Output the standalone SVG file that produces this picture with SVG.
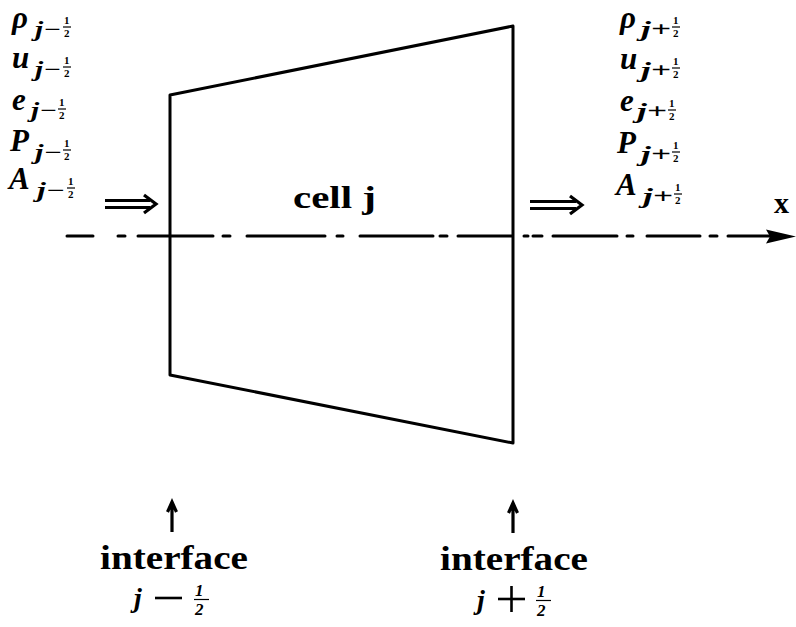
<svg xmlns="http://www.w3.org/2000/svg" width="796" height="627" viewBox="0 0 796 627">
<style>
.bg{fill:#fff}
.v{font-family:"Liberation Serif","DejaVu Serif",serif;font-style:italic;font-weight:bold;fill:#000}
.m{font-size:31px}
.s{font-size:20px}
.f{font-size:11px;font-style:normal}
.b{font-family:"Liberation Serif","DejaVu Serif",serif;font-weight:bold;fill:#000}
.ln{fill:none;stroke:#000;stroke-width:3;stroke-linecap:round;stroke-linejoin:round}
.fl{stroke:#000;stroke-width:1.2}
.ar{fill:none;stroke:#000;stroke-width:3.2;stroke-linecap:butt;stroke-linejoin:miter}
</style>
<rect class="bg" width="796" height="627"/>

<g id="cell">
  <path class="ln" d="M170,95 L513,26 L513,443 L170,375 Z"/>
  <text class="b" x="293" y="208" font-size="31" textLength="83" lengthAdjust="spacingAndGlyphs">cell j</text>
</g>

<g id="left-vars">
  <g id="rho-l"><text class="v m" x="12" y="28">ρ</text><text class="v s" x="35" y="36" textLength="26" lengthAdjust="spacingAndGlyphs">j−</text><text class="v f" x="64" y="24">1</text><line class="fl" x1="63" y1="27" x2="71" y2="27"/><text class="v f" x="64" y="37">2</text></g>
  <g id="u-l"><text class="v m" x="12" y="68">u</text><text class="v s" x="35" y="76" textLength="26" lengthAdjust="spacingAndGlyphs">j−</text><text class="v f" x="64" y="64">1</text><line class="fl" x1="63" y1="67" x2="71" y2="67"/><text class="v f" x="64" y="77">2</text></g>
  <g id="e-l"><text class="v m" x="12" y="110">e</text><text class="v s" x="31" y="117" textLength="26" lengthAdjust="spacingAndGlyphs">j−</text><text class="v f" x="59" y="106">1</text><line class="fl" x1="58" y1="109" x2="66" y2="109"/><text class="v f" x="59" y="119">2</text></g>
  <g id="P-l"><text class="v m" x="10" y="151">P</text><text class="v s" x="35" y="159" textLength="27" lengthAdjust="spacingAndGlyphs">j−</text><text class="v f" x="64" y="147">1</text><line class="fl" x1="63" y1="150" x2="71" y2="150"/><text class="v f" x="64" y="160">2</text></g>
  <g id="A-l"><text class="v m" x="9" y="189">A</text><text class="v s" x="37" y="197" textLength="28" lengthAdjust="spacingAndGlyphs">j−</text><text class="v f" x="68" y="185">1</text><line class="fl" x1="67" y1="188" x2="75" y2="188"/><text class="v f" x="68" y="198">2</text></g>
</g>

<g id="right-vars">
  <g id="rho-r"><text class="v m" x="620" y="28">ρ</text><text class="v s" x="641" y="36" textLength="30" lengthAdjust="spacingAndGlyphs">j+</text><text class="v f" x="673" y="24">1</text><line class="fl" x1="672" y1="27" x2="680" y2="27"/><text class="v f" x="673" y="37">2</text></g>
  <g id="u-r"><text class="v m" x="620" y="69">u</text><text class="v s" x="641" y="77" textLength="30" lengthAdjust="spacingAndGlyphs">j+</text><text class="v f" x="673" y="65">1</text><line class="fl" x1="672" y1="68" x2="680" y2="68"/><text class="v f" x="673" y="78">2</text></g>
  <g id="e-r"><text class="v m" x="620" y="111">e</text><text class="v s" x="637" y="118" textLength="30" lengthAdjust="spacingAndGlyphs">j+</text><text class="v f" x="669" y="107">1</text><line class="fl" x1="668" y1="110" x2="676" y2="110"/><text class="v f" x="669" y="120">2</text></g>
  <g id="P-r"><text class="v m" x="617" y="153">P</text><text class="v s" x="641" y="161" textLength="30" lengthAdjust="spacingAndGlyphs">j+</text><text class="v f" x="673" y="149">1</text><line class="fl" x1="672" y1="152" x2="680" y2="152"/><text class="v f" x="673" y="162">2</text></g>
  <g id="A-r"><text class="v m" x="616" y="195">A</text><text class="v s" x="643" y="203" textLength="30" lengthAdjust="spacingAndGlyphs">j+</text><text class="v f" x="675" y="191">1</text><line class="fl" x1="674" y1="194" x2="682" y2="194"/><text class="v f" x="675" y="204">2</text></g>
</g>

<g id="x-label">
  <text class="b" x="774" y="213" font-size="30">x</text>
</g>

<g id="iface-left">
  <text class="b" x="100" y="569" font-size="33" textLength="148" lengthAdjust="spacingAndGlyphs">interface</text>
  <text class="v" x="134" y="607" font-size="28">j</text>
  <line x1="155" y1="598" x2="182" y2="598" stroke="#000" stroke-width="2.6"/>
  <text class="v" x="195" y="596" font-size="17" font-style="normal">1</text>
  <line class="fl" x1="194" y1="599.5" x2="209" y2="599.5"/>
  <text class="v" x="195" y="615" font-size="17" font-style="normal">2</text>
</g>

<g id="iface-right">
  <text class="b" x="440" y="570" font-size="33" textLength="148" lengthAdjust="spacingAndGlyphs">interface</text>
  <text class="v" x="477" y="609" font-size="28">j</text>
  <line x1="498" y1="599" x2="525" y2="599" stroke="#000" stroke-width="2.6"/>
  <line x1="511.5" y1="586" x2="511.5" y2="612" stroke="#000" stroke-width="2.6"/>
  <text class="v" x="537" y="597" font-size="17" font-style="normal">1</text>
  <line class="fl" x1="536" y1="600.5" x2="551" y2="600.5"/>
  <text class="v" x="537" y="616" font-size="17" font-style="normal">2</text>
</g>

<g id="connectors">
  <path id="axis" class="ln" stroke-linecap="butt" d="M67,236 H93 M118,236 H125 M138,236 H213 M223,236 H230 M247,236 H325 M337,236 H343 M360,236 H433 M440,236 H447 M458,236 H512 M524,236 H528 M533,236 H542 M553,236 H617 M627,236 H633 M647,236 H700 M710,236 H717 M728,236 H772"/>
  <polygon points="766,229.5 796,236.5 766,243.5 770,236.5" fill="#000"/>
  <g id="dbl-left"><path class="ar" d="M105,200.5 H150 M105,207.5 H150"/><path class="ar" d="M144,195 L156,204 L144,213"/></g>
  <g id="dbl-right"><path class="ar" d="M530,201.5 H576 M530,208.5 H576"/><path class="ar" d="M570,196 L582,205 L570,214"/></g>
  <g id="up-left"><path class="ar" stroke-width="2.2" d="M172,532 V503 M167.5,512 L172,502 L176.5,512"/></g>
  <g id="up-right"><path class="ar" stroke-width="2.2" d="M513,533 V504 M508.5,513 L513,503 L517.5,513"/></g>
</g>
</svg>
